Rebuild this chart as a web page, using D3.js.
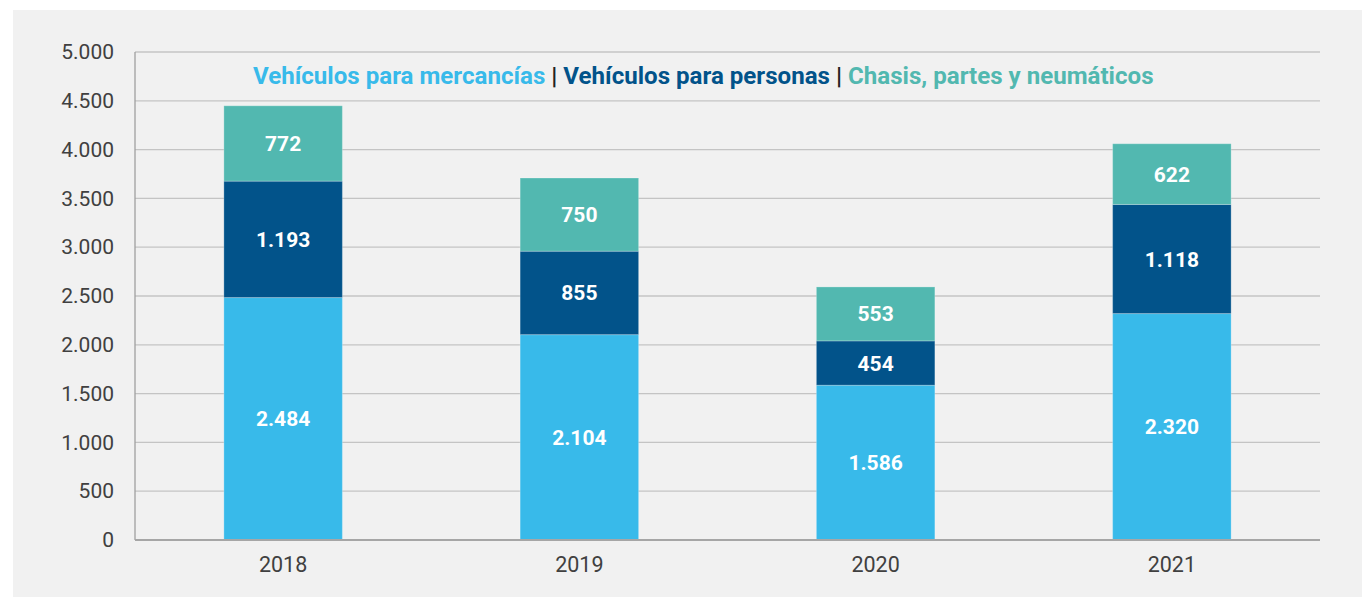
<!DOCTYPE html>
<html><head><meta charset="utf-8">
<script src="https://cdn.jsdelivr.net/npm/d3@7"></script>
<style>
html,body{margin:0;padding:0;background:#fff;}
svg{display:block;font-family:Roboto,"Noto Sans",sans-serif;}
</style></head>
<body>
<svg id="chart" width="1362" height="597"></svg>
<script>
const years = ["2018","2019","2020","2021"];
const seriesNames = ["Vehículos para mercancías","Vehículos para personas","Chasis, partes y neumáticos"];
const mercancias = [2484, 2104, 1586, 2320];
const personas = [1193, 855, 454, 1118];
const chasis = [772, 750, 553, 622];
const yTicks = [0,500,1000,1500,2000,2500,3000,3500,4000,4500,5000];
const colors = ["#38baea","#02538a","#52b8b0"];

const svg = d3.select("#chart");
svg.append("rect").attr("x",13).attr("y",10).attr("width",1362-13).attr("height",597-10).attr("fill","#f1f1f1");

const m = {left:135, right:1320, top:52, bottom:540};
const x = d3.scaleBand().domain(years).range([m.left,m.right]).paddingInner(0.6).paddingOuter(0.3);
const y = d3.scaleLinear().domain([0,5000]).range([m.bottom,m.top]);
const fmt = v => d3.format(",")(v).replace(/,/g,".");

// gridlines
svg.append("g").selectAll("line").data(yTicks.filter(t=>t>0)).join("line")
  .attr("x1",m.left).attr("x2",m.right).attr("y1",d=>y(d)).attr("y2",d=>y(d))
  .attr("stroke","#c4c4c4").attr("stroke-width",1.3);

// y axis labels
const yAxis = svg.append("g").attr("transform",`translate(${m.left},0)`)
  .call(d3.axisLeft(y).tickValues(yTicks).tickFormat(fmt).tickSize(0).tickPadding(21));
yAxis.select(".domain").remove();
yAxis.selectAll("text").attr("font-size",21).attr("fill","#404040").attr("font-family","Roboto");

// stacked data
const rows = years.map((yr,i)=>({year:yr, a:mercancias[i], b:personas[i], c:chasis[i]}));
const stack = d3.stack().keys(["a","b","c"])(rows);

stack.forEach((layer,li)=>{
  const g = svg.append("g");
  g.selectAll("rect").data(layer).join("rect")
    .attr("x",d=>x(d.data.year)).attr("width",x.bandwidth())
    .attr("y",d=>y(d[1])).attr("height",d=>y(d[0])-y(d[1]))
    .attr("fill",colors[li]).attr("stroke","rgba(255,255,255,0.25)").attr("stroke-width",1);
  g.selectAll("text").data(layer).join("text")
    .attr("x",d=>x(d.data.year)+x.bandwidth()/2)
    .attr("y",d=>(y(d[0])+y(d[1]))/2)
    .attr("dy","0.36em").attr("text-anchor","middle")
    .attr("font-size",21).attr("font-weight","bold").attr("fill","#fff")
    .text(d=>fmt(d[1]-d[0]));
});

// axes lines
svg.append("line").attr("x1",m.left).attr("x2",m.left).attr("y1",m.top).attr("y2",m.bottom)
  .attr("stroke","#a0a0a0").attr("stroke-width",1.3);
svg.append("line").attr("x1",m.left).attr("x2",m.right).attr("y1",m.bottom).attr("y2",m.bottom)
  .attr("stroke","#a6a6a6").attr("stroke-width",2);

// x axis labels
const xAxis = svg.append("g").attr("transform",`translate(0,${m.bottom})`)
  .call(d3.axisBottom(x).tickSize(0).tickPadding(17));
xAxis.select(".domain").remove();
xAxis.selectAll("text").attr("font-size",21.5).attr("fill","#404040").attr("font-family","Roboto");

// legend
const leg = svg.append("text").attr("x",253).attr("y",84).attr("font-size",24.1).attr("font-weight","bold");
leg.append("tspan").attr("fill",colors[0]).text(seriesNames[0]);
leg.append("tspan").attr("fill","#222").text(" | ");
leg.append("tspan").attr("fill",colors[1]).text(seriesNames[1]);
leg.append("tspan").attr("fill","#222").text(" | ");
leg.append("tspan").attr("fill",colors[2]).text(seriesNames[2]);
</script>
</body></html>
